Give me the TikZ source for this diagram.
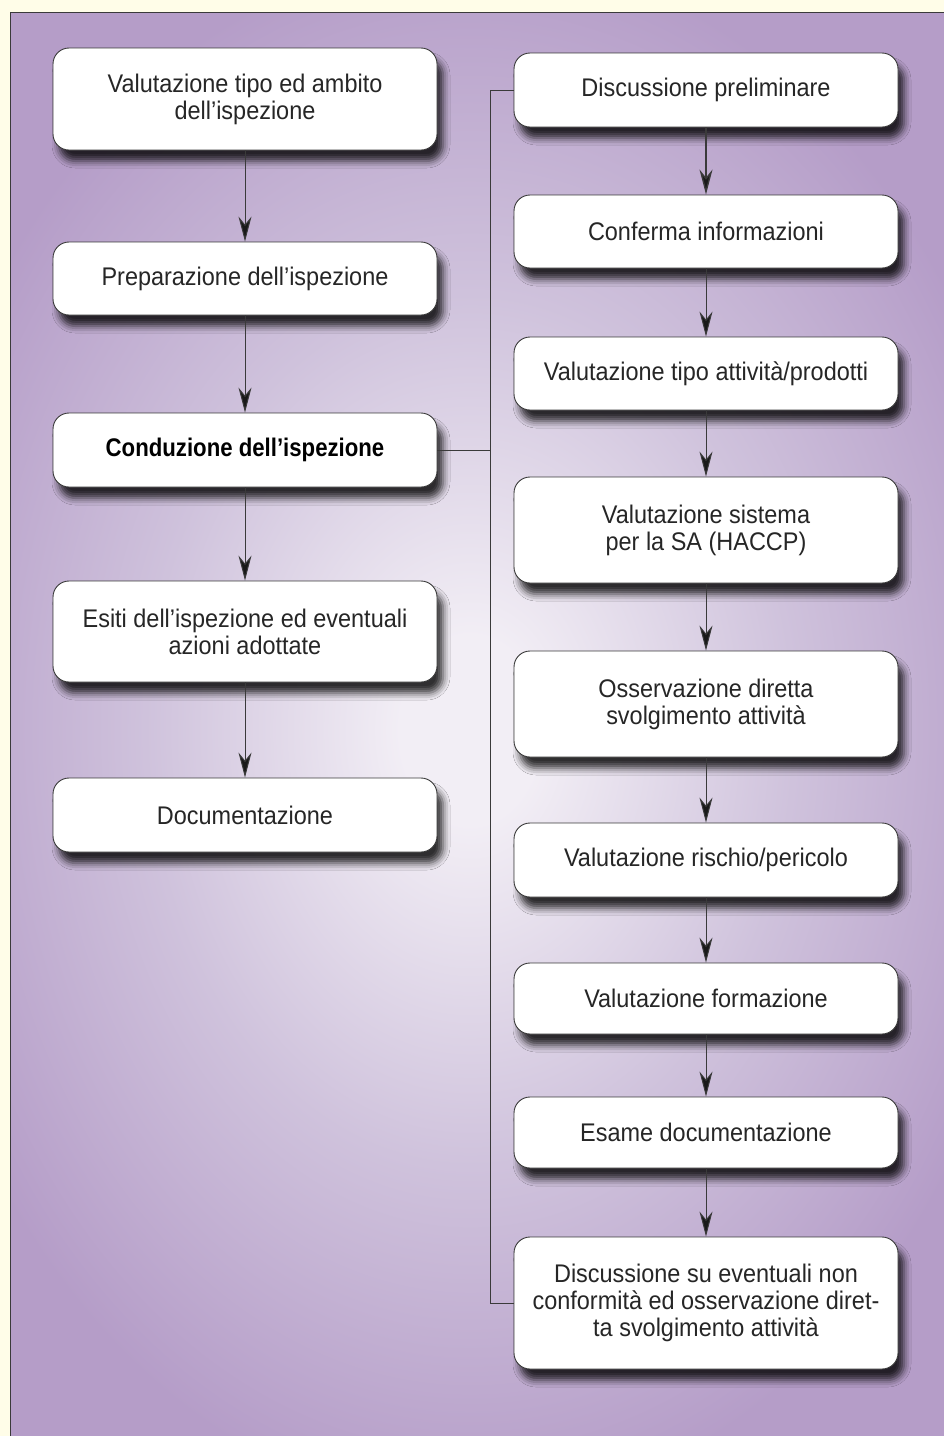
\documentclass[tikz,border=0pt]{standalone}
\usepackage{fontspec}
\setmainfont{Liberation Sans}[FakeStretch=0.92]
\newfontfamily\condbold{Liberation Sans}[FakeStretch=0.87]
\usetikzlibrary{arrows.meta,shadows.blur}
\definecolor{bgout}{HTML}{B59DC8}
\definecolor{bgmid}{HTML}{CFC2DC}
\definecolor{bgin}{HTML}{F2EEF5}
\definecolor{cream}{HTML}{FFFDE8}
\definecolor{txt}{HTML}{262626}
\definecolor{edge}{HTML}{3A3A3A}
\pgfdeclareradialshading{glow}{\pgfpoint{0bp}{0bp}}{color(0bp)=(bgin); color(3bp)=(bgin); color(14bp)=(bgmid); color(25bp)=(bgout); color(50bp)=(bgout)}
\begin{document}
\begin{tikzpicture}[x=1pt,y=-1pt,
  box/.style={draw=edge, line width=0.9pt, fill=white, rounded corners=16pt,
    minimum width=384pt, inner sep=0pt, align=center, text=txt,
    font=\fontsize{25.5}{27}\selectfont,
    blur shadow={shadow xshift=6pt, shadow yshift=-11pt, shadow blur radius=7pt, shadow opacity=80}},
  flow/.style={draw=edge, line width=1pt, -{Stealth[length=25pt,width=13pt,inset=8pt,fill=black!90]}},
  link/.style={draw=edge, line width=1pt}]
\useasboundingbox (0,0) rectangle (944,1436);
\fill[cream] (0,0) rectangle (944,1436);
\begin{scope}
  \clip (10.5,12.5) rectangle (944,1436);
  \fill[bgout] (10.5,12.5) rectangle (944,1436);
  \shade[shading=glow] (470,730) ellipse (580 and 780);
\end{scope}
\draw[edge, line width=1pt] (10.5,1436) -- (10.5,12.5) -- (944,12.5);

% left column
\node[box, minimum height=102pt] (L1) at (245,99) {Valutazione tipo ed ambito\\dell’ispezione};
\node[box, minimum height=73pt] (L2) at (245,278.5) {Preparazione dell’ispezione};
\node[box, minimum height=74pt, text=black] (L3) at (245,450) {\condbold\bfseries Conduzione dell’ispezione};
\node[box, minimum height=101pt] (L4) at (245,631.5) {Esiti dell’ispezione ed eventuali\\azioni adottate};
\node[box, minimum height=74pt] (L5) at (245,815) {Documentazione};

% right column
\node[box, minimum height=74pt] (R1) at (706,90) {Discussione preliminare};
\node[box, minimum height=73pt] (R2) at (706,231.5) {Conferma informazioni};
\node[box, minimum height=73pt] (R3) at (706,373.5) {Valutazione tipo attività/prodotti};
\node[box, minimum height=106pt] (R4) at (706,530) {Valutazione sistema\\per la SA (HACCP)};
\node[box, minimum height=106pt] (R5) at (706,704) {Osservazione diretta\\svolgimento attività};
\node[box, minimum height=74pt] (R6) at (706,860) {Valutazione rischio/pericolo};
\node[box, minimum height=71pt] (R7) at (706,998.5) {Valutazione formazione};
\node[box, minimum height=71pt] (R8) at (706,1132.5) {Esame documentazione};
\node[box, minimum height=132pt] (R9) at (706,1303) {Discussione su eventuali non\\conformità ed osservazione diret-\\ta svolgimento attività};

% arrows
\draw[flow] (L1) -- (L2);
\draw[flow] (L2) -- (L3);
\draw[flow] (L3) -- (L4);
\draw[flow] (L4) -- (L5);
\draw[flow, line width=1.4pt] (R1) -- (R2);
\draw[flow] (R2) -- (R3);
\draw[flow] (R3) -- (R4);
\draw[flow] (R4) -- (R5);
\draw[flow] (R5) -- (R6);
\draw[flow] (R6) -- (R7);
\draw[flow] (R7) -- (R8);
\draw[flow] (R8) -- (R9);

% bracket
\coordinate (bx) at (490,0);
\draw[link] (R1.west) -- (R1.west -| bx) -- (R9.west -| bx) -- (R9.west);
\draw[link] (L3.east) -- (L3.east -| bx);
\end{tikzpicture}
\end{document}
